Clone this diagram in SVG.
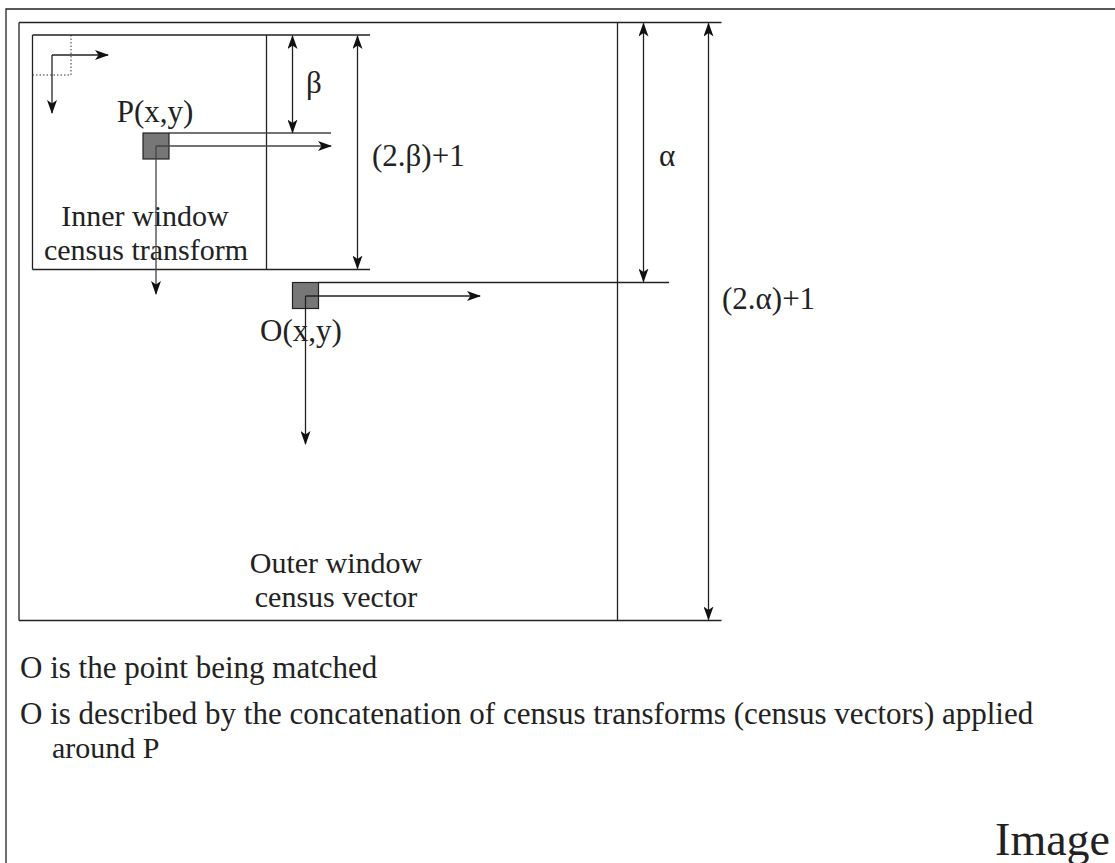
<svg xmlns="http://www.w3.org/2000/svg" width="1115" height="863" viewBox="0 0 1115 863">
<style>
.ln{stroke:#222;stroke-width:1.3;fill:none}
.gl{stroke:#444;stroke-width:1.3;fill:none}
.dot{stroke:#333;stroke-width:1;stroke-dasharray:1.5,2;fill:none}
.pix{fill:#777;stroke:#222;stroke-width:1.2}
text{font-family:"Liberation Serif","Times New Roman",serif;font-size:31px;fill:#222}
.mid{text-anchor:middle}
.two{font-size:30px}
</style>
<defs>
<marker id="ah" viewBox="0 0 14 10" refX="13" refY="5" markerWidth="14" markerHeight="10" markerUnits="userSpaceOnUse" orient="auto-start-reverse">
<path d="M0,0 L14,5 L0,10 L3.5,5 Z" fill="#111"/>
</marker>
</defs>
<rect width="1115" height="863" fill="#fff"/>
<g id="frame">
<path class="ln" d="M6,863 V9 H1115"/>
</g>
<g id="outer-window">
<path class="ln" d="M19,22.5 H721.5 M19,620.5 H721.5 M19,22.5 V620.5 M617.5,22.5 V620.5"/>
<text class="mid two"><tspan x="336" y="573">Outer window</tspan><tspan x="336" y="607">census vector</tspan></text>
</g>
<g id="inner-window">
<path class="ln" d="M32.5,35 H370 M32.5,269.5 H370 M32.5,35 V269.5 M266.5,35 V269.5"/>
<text class="mid two"><tspan x="145" y="226">Inner window</tspan><tspan x="146" y="260">census transform</tspan></text>
</g>
<g id="axes-icon">
<path class="dot" d="M71,35 V75 H32.5"/>
</g>
<g id="P">
<rect class="pix" x="143" y="133" width="26" height="26"/>
<text x="155" y="122" class="mid">P(x,y)</text>
</g>
<g id="O">
<rect class="pix" x="292.5" y="282.5" width="26" height="26"/>
<text x="301" y="341" class="mid">O(x,y)</text>
</g>
<g id="connectors">
<path class="ln" d="M52,55 H108" marker-end="url(#ah)"/>
<path class="ln" d="M52,55 V113" marker-end="url(#ah)"/>
<path class="gl" d="M169,133 H331"/>
<path class="gl" d="M156,146 H331" marker-end="url(#ah)"/>
<path class="gl" d="M156,146 V294" marker-end="url(#ah)"/>
<path class="ln" d="M292.5,36 V132.5" marker-start="url(#ah)" marker-end="url(#ah)"/>
<path class="ln" d="M357.5,36 V268.5" marker-start="url(#ah)" marker-end="url(#ah)"/>
<path class="ln" d="M318.5,282.5 H669"/>
<path class="ln" d="M305.5,296 H480" marker-end="url(#ah)"/>
<path class="ln" d="M305.5,296 V444" marker-end="url(#ah)"/>
<path class="ln" d="M643.5,23.5 V281.5" marker-start="url(#ah)" marker-end="url(#ah)"/>
<path class="ln" d="M708.5,23.5 V619.5" marker-start="url(#ah)" marker-end="url(#ah)"/>
</g>
<g id="labels">
<text x="314" y="93" class="mid">β</text>
<text x="372" y="166">(2.β)+1</text>
<text x="667" y="166" class="mid">α</text>
<text x="722" y="309">(2.α)+1</text>
<text x="20" y="678">O is the point being matched</text>
<text x="20" y="724">O is described by the concatenation of census transforms (census vectors) applied</text>
<text x="52" y="758" class="two">around P</text>
<text x="1110" y="855" text-anchor="end" style="font-size:46px">Image</text>
</g>
</svg>
